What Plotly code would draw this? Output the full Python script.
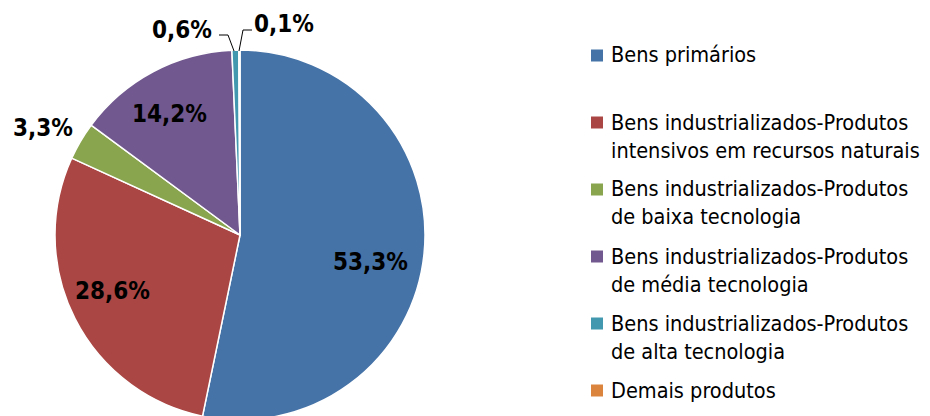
import plotly.graph_objects as go

# the page body has an 8px margin, so the figure is laid out 8px up/left
# and made taller than the window so the pie runs off the bottom like the original
OFF = 8
W, H = 922, 420

categorias = [
    'Bens primários',
    'Bens industrializados-Produtos<br>intensivos em recursos naturais',
    'Bens industrializados-Produtos<br>de baixa tecnologia',
    'Bens industrializados-Produtos<br>de média tecnologia',
    'Bens industrializados-Produtos<br>de alta tecnologia',
    'Demais produtos',
]
participacao = [53.3, 28.6, 3.3, 14.2, 0.6, 0.1]
cores = ['#4572A7', '#AA4643', '#89A54E', '#71588F', '#4198AF', '#DB843D']
rotulos = [f'{v:.1f}'.replace('.', ',') + '%' for v in participacao]

# where the percentage labels sit (window pixels)
pos_rotulos = [(370, 261), (112, 289), (43, 127), (169, 112), (182, 28), (284, 23)]

FONT = 'DejaVu Sans Condensed, DejaVu Sans, sans-serif'


def px(x):
    return (x - OFF) / W


def py(y):
    return 1 - (y - OFF) / H


fig = go.Figure(go.Pie(
    labels=[c.replace('<br>', ' ') for c in categorias],
    values=participacao,
    text=rotulos,
    textinfo='none',
    sort=False,
    direction='clockwise',
    rotation=0,
    marker=dict(colors=cores, line=dict(color='white', width=1.5)),
    domain=dict(x=[px(55), px(425)], y=[py(420), py(50)]),
    showlegend=False,
    hoverinfo='label+text',
))

annotations = []
shapes = []

for txt, (x, y) in zip(rotulos, pos_rotulos):
    annotations.append(dict(text='<b>' + txt + '</b>', x=px(x), y=py(y + 1.5),
                            xref='paper', yref='paper', xanchor='center', yanchor='middle',
                            showarrow=False, font=dict(family=FONT, size=24, color='black')))

# leader lines for the two tiny slices
for pts in ([(219, 35), (228, 35), (234, 51)], [(252, 30), (243, 30), (239, 51)]):
    path = 'M ' + ' L '.join(f'{px(a)} {py(b)}' for a, b in pts)
    shapes.append(dict(type='path', path=path, xref='paper', yref='paper',
                       line=dict(color='black', width=1)))

# legend drawn by hand: Excel-style, square aligned with first text line
y0, passo = 55.5, 67
for i, (cat, cor) in enumerate(zip(categorias, cores)):
    yc = y0 + i * passo
    shapes.append(dict(type='rect', xref='paper', yref='paper',
                       x0=px(591), x1=px(603), y0=py(yc - 6), y1=py(yc + 6),
                       fillcolor=cor, line=dict(width=0)))
    annotations.append(dict(text=cat, x=px(609), y=py(yc - 15), xref='paper', yref='paper',
                            xanchor='left', yanchor='top', align='left', showarrow=False,
                            font=dict(family=FONT, size=21.5, color='black')))

fig.update_layout(
    width=W, height=H,
    margin=dict(l=0, r=0, t=0, b=0),
    paper_bgcolor='white',
    plot_bgcolor='white',
    font=dict(family=FONT),
    annotations=annotations,
    shapes=shapes,
)

fig.write_html('out.html')
